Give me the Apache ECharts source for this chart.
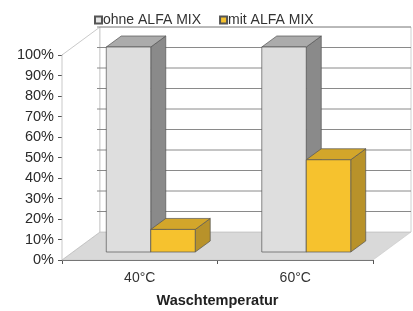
<!DOCTYPE html>
<html>
<head>
<meta charset="utf-8">
<script src="https://cdn.jsdelivr.net/npm/echarts@6/dist/echarts.min.js"></script>
<style>
  html, body { margin: 0; padding: 0; background: #fff; }
  #chart { width: 413px; height: 311px; }
</style>
</head>
<body>
<div id="chart"></div>
<script>
// data
var categories = ['40°C', '60°C'];
var ohneAlfa = [100, 100];
var mitAlfa = [11, 45];
var yTicks = [0, 10, 20, 30, 40, 50, 60, 70, 80, 90, 100];

// 3d look
var DX = 38, DY = -28;      // depth of the whole chart box
var OFF_X = 11, OFF_Y = -8; // where the bars sit in the depth
var BDX = 15, BDY = -11;    // depth of one bar
var BAR_RATIO = 0.286;

var myChart = echarts.init(document.getElementById('chart'));

function renderFrame(params, api) {
  var cs = params.coordSys;
  var l = cs.x, r = cs.x + cs.width, t = cs.y, b = cs.y + cs.height;
  var kids = [];
  // floor
  kids.push({ type: 'polygon', shape: { points: [[l, b], [r, b], [r + DX, b + DY], [l + DX, b + DY]] },
    style: { fill: '#d9d9d9', stroke: '#c8c8c8', lineWidth: 0.6 } });
  // left wall
  kids.push({ type: 'polygon', shape: { points: [[l, b], [l, t], [l + DX, t + DY], [l + DX, b + DY]] },
    style: { fill: '#fff', stroke: '#bbb', lineWidth: 0.8 } });
  // back wall
  kids.push({ type: 'polygon', shape: { points: [[l + DX, t + DY], [r + DX, t + DY], [r + DX, b + DY], [l + DX, b + DY]] },
    style: { fill: '#fff', stroke: '#c4c4c4', lineWidth: 0.8 } });
  // grid lines on back wall
  for (var i = 1; i < yTicks.length; i++) {
    var y = api.coord([0, yTicks[i]])[1] + DY;
    kids.push({ type: 'line', shape: { x1: l + DX - 3, y1: y, x2: r + DX, y2: y },
      style: { stroke: '#8a8a8a', lineWidth: 1 } });
  }
  return { type: 'group', children: kids };
}

function makeBox(pos, front, topc, side) {
  return function (params, api) {
    var idx = api.value(0), val = api.value(1);
    var base = api.coord([idx, 0]);
    var top = api.coord([idx, val]);
    var bw = api.size([1, 0])[0] * BAR_RATIO;
    var x0 = base[0] + OFF_X - bw + pos * bw;
    var x1 = x0 + bw;
    var y0 = top[1] + OFF_Y, y1 = base[1] + OFF_Y;
    var st = { stroke: '#555', lineWidth: 0.7 };
    return {
      type: 'group',
      children: [
        { type: 'polygon', shape: { points: [[x1, y0], [x1 + BDX, y0 + BDY], [x1 + BDX, y1 + BDY], [x1, y1]] },
          style: Object.assign({ fill: side }, st) },
        { type: 'polygon', shape: { points: [[x0, y0], [x1, y0], [x1 + BDX, y0 + BDY], [x0 + BDX, y0 + BDY]] },
          style: Object.assign({ fill: topc }, st) },
        { type: 'rect', shape: { x: x0, y: y0, width: bw, height: y1 - y0 },
          style: Object.assign({ fill: front }, st) }
      ]
    };
  };
}

var option = {
  animation: false,
  textStyle: { fontFamily: 'Liberation Sans, Arial, sans-serif' },
  legend: {
    left: 89,
    top: 8,
    icon: 'rect',
    itemWidth: 7,
    itemHeight: 7,
    itemGap: 18,
    textStyle: { fontSize: 14, color: '#333', padding: [0, 0, 0, -4] },
    data: ['ohne ALFA MIX', 'mit ALFA MIX']
  },
  grid: { left: 62, right: 40, top: 55, bottom: 51, outerBoundsMode: 'none' },
  xAxis: {
    type: 'category',
    data: categories,
    name: 'Waschtemperatur',
    nameLocation: 'middle',
    nameGap: 33,
    nameTextStyle: { fontSize: 14.5, fontWeight: 'bold', color: '#222' },
    axisLine: { lineStyle: { color: '#555', width: 1 } },
    axisTick: { show: true, length: 4, lineStyle: { color: '#555' } },
    axisLabel: { fontSize: 14, color: '#333', margin: 11 }
  },
  yAxis: {
    type: 'value',
    min: 0,
    max: 100,
    interval: 10,
    axisLine: { show: true, lineStyle: { color: '#555', width: 1 } },
    axisTick: { show: true, length: 4, lineStyle: { color: '#555' } },
    splitLine: { show: false },
    axisLabel: { formatter: '{value}%', fontSize: 14.5, color: '#2a2a2a', margin: 8 }
  },
  series: [
    {
      type: 'custom',
      name: 'frame',
      renderItem: renderFrame,
      data: [[0, 0]],
      silent: true,
      z: 1
    },
    {
      type: 'custom',
      name: 'ohne ALFA MIX',
      renderItem: makeBox(0, '#dedede', '#ababab', '#8a8a8a'),
      itemStyle: { color: '#e6e6e6', borderColor: '#555', borderWidth: 1 },
      data: categories.map(function (c, i) { return [i, ohneAlfa[i]]; }),
      z: 2
    },
    {
      type: 'custom',
      name: 'mit ALFA MIX',
      renderItem: makeBox(1, '#f6c22e', '#d3a62a', '#b8922a'),
      itemStyle: { color: '#f6c22e', borderColor: '#555', borderWidth: 1 },
      data: categories.map(function (c, i) { return [i, mitAlfa[i]]; }),
      z: 2
    }
  ]
};

myChart.setOption(option);
</script>
</body>
</html>
